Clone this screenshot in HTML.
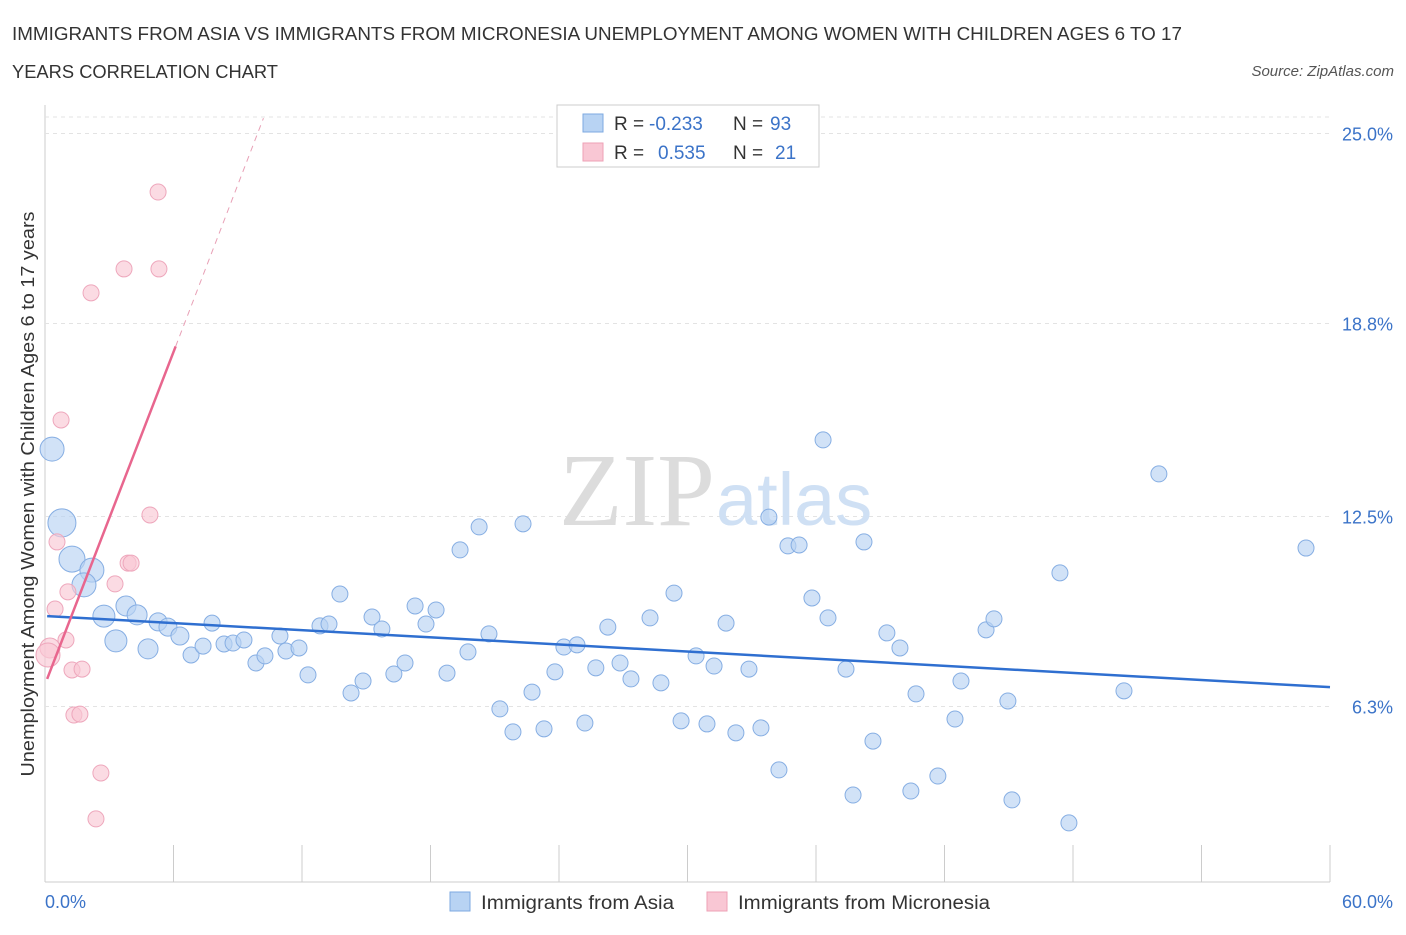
<!DOCTYPE html>
<html><head><meta charset="utf-8"><style>
body{margin:0;background:#fff;font-family:"Liberation Sans",sans-serif;}
</style></head><body>
<svg width="1406" height="930" xmlns="http://www.w3.org/2000/svg" font-family="Liberation Sans, sans-serif">
<text x="12" y="40" font-size="18.5" fill="#333" textLength="1170" lengthAdjust="spacingAndGlyphs">IMMIGRANTS FROM ASIA VS IMMIGRANTS FROM MICRONESIA UNEMPLOYMENT AMONG WOMEN WITH CHILDREN AGES 6 TO 17</text>
<text x="12" y="78" font-size="18.5" fill="#333" textLength="266" lengthAdjust="spacingAndGlyphs">YEARS CORRELATION CHART</text>
<text x="1394" y="76" font-size="15" fill="#555" font-style="italic" text-anchor="end">Source: ZipAtlas.com</text>
<g id="grid"></g>
<text x="715" y="525" font-size="104" fill="#dcdcdc" text-anchor="end" font-family="Liberation Serif, serif">ZIP</text>
<text x="716" y="525" font-size="74" fill="#cfe0f4">atlas</text>
<g id="marks"></g>
<text x="34" y="494" font-size="18" fill="#333" text-anchor="middle" textLength="565" lengthAdjust="spacingAndGlyphs" transform="rotate(-90 34 494)">Unemployment Among Women with Children Ages 6 to 17 years</text>
<text x="45" y="908" font-size="18" fill="#3b73c8">0.0%</text>
<text x="1393" y="908" font-size="18" fill="#3b73c8" text-anchor="end">60.0%</text>
<g>
<rect x="557" y="105" width="262" height="62" fill="#fff" stroke="#ccc"/>
<rect x="583" y="114" width="20" height="18" fill="#b8d3f3" stroke="#7ea9e0"/>
<rect x="583" y="143" width="20" height="18" fill="#f9c7d4" stroke="#eea0b6"/>
<text x="614" y="130" font-size="19" fill="#333">R =</text>
<text x="649" y="130" font-size="19" fill="#3b73c8">-0.233</text>
<text x="733" y="130" font-size="19" fill="#333">N =</text>
<text x="770" y="130" font-size="19" fill="#3b73c8">93</text>
<text x="614" y="159" font-size="19" fill="#333">R =</text>
<text x="658" y="159" font-size="19" fill="#3b73c8">0.535</text>
<text x="733" y="159" font-size="19" fill="#333">N =</text>
<text x="775" y="159" font-size="19" fill="#3b73c8">21</text>
</g>
<g>
<rect x="450" y="892" width="20" height="19" fill="#b8d3f3" stroke="#7ea9e0"/>
<text x="481" y="909" font-size="19" fill="#333" textLength="193" lengthAdjust="spacingAndGlyphs">Immigrants from Asia</text>
<rect x="707" y="892" width="20" height="19" fill="#f9c7d4" stroke="#eea0b6"/>
<text x="738" y="909" font-size="19" fill="#333" textLength="252" lengthAdjust="spacingAndGlyphs">Immigrants from Micronesia</text>
</g>
</svg>
<script>
const yTicks=[6.3,12.5,18.8,25.0];
const yTickLabels=["6.3%","12.5%","18.8%","25.0%"];
const xTicks=[0,6,12,18,24,30,36,42,48,54,60];
const asiaX=[0.33,0.79,1.26,2.19,1.82,2.75,3.78,3.31,4.30,4.81,5.28,5.74,6.30,6.82,7.38,7.80,8.36,8.78,9.29,9.85,10.27,10.97,11.25,11.86,12.28,12.84,13.26,13.77,14.29,14.85,15.27,15.73,16.29,16.81,17.28,17.79,18.26,18.77,19.38,19.75,20.27,20.73,21.24,21.85,22.32,22.74,23.30,23.81,24.23,24.84,25.21,25.72,26.28,26.85,27.36,28.25,28.76,29.37,29.70,30.40,30.91,31.24,31.80,32.26,32.87,33.43,33.80,34.27,34.69,35.21,35.81,36.33,36.56,37.40,37.73,38.24,38.66,39.31,39.92,40.43,40.67,41.69,42.49,42.77,43.94,44.31,44.96,45.15,47.39,47.81,50.38,52.01,58.88];
const asiaY=[14.70,12.29,11.11,10.75,10.27,9.25,9.58,8.44,9.29,8.18,9.06,8.89,8.60,7.98,8.27,9.02,8.34,8.37,8.47,7.72,7.95,8.60,8.11,8.21,7.33,8.93,8.99,9.97,6.74,7.13,9.22,8.83,7.36,7.72,9.58,8.99,9.45,7.39,11.41,8.08,12.16,8.67,6.22,5.47,12.26,6.77,5.57,7.43,8.24,8.31,5.76,7.56,8.89,7.72,7.20,9.19,7.07,10.00,5.83,7.95,5.73,7.62,9.02,5.44,7.52,5.60,12.48,4.23,11.54,11.57,9.84,15.00,9.19,7.52,3.41,11.67,5.17,8.70,8.21,3.54,6.71,4.03,5.89,7.13,8.80,9.16,6.48,3.25,10.66,2.50,6.81,13.89,11.47];
const asiaSize=[12,14,13,12,12,11,10,11,10,10,9,9,9];
const micX=[5.28,3.69,5.32,2.15,0.75,4.90,0.56,3.88,3.27,1.07,0.47,0.98,0.23,0.14,1.26,1.73,1.35,1.63,2.61,2.38,4.02];
const micY=[23.09,20.58,20.58,19.80,15.65,12.55,11.67,10.98,10.30,10.04,9.48,8.47,8.21,7.98,7.49,7.52,6.02,6.05,4.13,2.63,10.98];
const micSize=[8,8,8,8,8,8,8,8,8,8,8,8,10,12,8,8,8,8,8,8,8];
const asiaTrend=[0.1,9.25,60,6.93];
const micTrend=[0.1,7.2,6.1,18.05,10.2,25.5];
const X0=45,X1=1330,YB=899.5,YS=30.64;
const sx=v=>X0+v/60*(X1-X0), sy=v=>YB-v*YS;
const NS="http://www.w3.org/2000/svg";
function mk(p,t,a){const e=document.createElementNS(NS,t);for(const k in a)e.setAttribute(k,a[k]);p.appendChild(e);return e;}
const g=document.getElementById('grid'), m=document.getElementById('marks');
const ax=mk(g,'line',{x1:45,y1:105,x2:45,y2:882,stroke:'#ccc'});


const bx=mk(g,'line',{x1:45,y1:882,x2:1330,y2:882,stroke:'#ccc'});


const topG=mk(g,'line',{x1:45,y1:117,x2:1330,y2:117,stroke:'#e3e3e3','stroke-dasharray':'4,4'});


yTicks.forEach((v,i)=>{
 const y=sy(v);
 const l=mk(g,'line',{x1:45,y1:y,x2:1330,y2:y,stroke:'#e3e3e3','stroke-dasharray':'4,4'});
 
 
 const t=mk(g,'text',{x:1393,y:y+7,'font-size':18,fill:'#3b73c8','text-anchor':'end'});
 t.textContent=yTickLabels[i];
 
 
});
xTicks.forEach(v=>{
 const x=sx(v);
 const l=mk(g,'line',{x1:x,y1:845,x2:x,y2:882,stroke:'#ccc'});
 
 
});
asiaX.forEach((v,i)=>{
 const c=mk(m,'circle',{cx:sx(v),cy:sy(asiaY[i]),r:asiaSize[i]||8,fill:'#b8d3f3','fill-opacity':0.65,stroke:'#86aee3','stroke-width':1});
 
 
});
micX.forEach((v,i)=>{
 const c=mk(m,'circle',{cx:sx(v),cy:sy(micY[i]),r:micSize[i],fill:'#f9c7d4','fill-opacity':0.65,stroke:'#eea7bc','stroke-width':1});
 
 
});
const at=mk(m,'line',{x1:sx(asiaTrend[0]),y1:sy(asiaTrend[1]),x2:sx(asiaTrend[2]),y2:sy(asiaTrend[3]),stroke:'#2f6fd0','stroke-width':2.5});


const mt=mk(m,'line',{x1:sx(micTrend[0]),y1:sy(micTrend[1]),x2:sx(micTrend[2]),y2:sy(micTrend[3]),stroke:'#e8668e','stroke-width':2.5});


const md=mk(m,'line',{x1:sx(micTrend[2]),y1:sy(micTrend[3]),x2:sx(micTrend[4]),y2:sy(micTrend[5]),stroke:'#e8a0b6','stroke-width':1,'stroke-dasharray':'6,5'});


</script>
</body></html>
